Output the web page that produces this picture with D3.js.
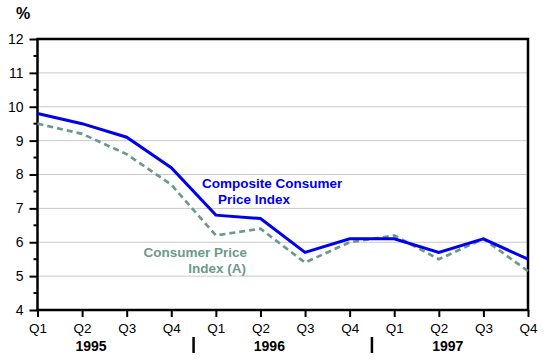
<!DOCTYPE html>
<html><head><meta charset="utf-8">
<script src="https://cdn.jsdelivr.net/npm/d3@7"></script>
<style>body{margin:0;background:#fff}svg{display:block;font-family:"Liberation Sans",Arial,sans-serif}</style>
</head><body><svg id="c" width="550" height="364"></svg>
<script>
const quarters = ["Q1","Q2","Q3","Q4","Q1","Q2","Q3","Q4","Q1","Q2","Q3","Q4"];
const years = ["1995","1996","1997"];
const composite = [9.8,9.5,9.1,8.2,6.8,6.7,5.7,6.1,6.1,5.7,6.1,5.5];
const cpiA = [9.5,9.2,8.6,7.7,6.2,6.4,5.4,6.0,6.2,5.5,6.1,5.15];
const yTicks = [4,5,6,7,8,9,10,11,12];

const svg = d3.select("#c");
const L=37.5, R=528, T=39, B=310;
const x = d3.scalePoint().domain(d3.range(quarters.length)).range([L,R]);
const y = d3.scaleLinear().domain([4,12]).range([B,T]);

// gridlines
svg.append("g").selectAll("line").data(yTicks.filter(v=>v>4&&v<12)).join("line")
  .attr("x1",L).attr("x2",R).attr("y1",d=>y(d)).attr("y2",d=>y(d))
  .attr("stroke","#c8c8c8").attr("stroke-width",1);

// minor ticks
const minors = d3.range(4.5,12,1);
svg.append("g").selectAll("line").data(minors).join("line")
  .attr("x1",L-4).attr("x2",L).attr("y1",d=>y(d)).attr("y2",d=>y(d))
  .attr("stroke","#000").attr("stroke-width",2);

// y axis
const ya = svg.append("g").attr("transform",`translate(${L},0)`)
  .call(d3.axisLeft(y).tickValues(yTicks).tickSize(8).tickPadding(6).tickFormat(d3.format("d")));
ya.select(".domain").remove();
ya.selectAll(".tick line").attr("stroke","#000").attr("stroke-width",2);
ya.selectAll(".tick text").attr("font-size",14).attr("fill","#000").attr("font-family","Liberation Sans, Arial, sans-serif");

// x axis
const xa = svg.append("g").attr("transform",`translate(0,${B})`)
  .call(d3.axisBottom(x).tickSize(7).tickPadding(6).tickFormat(i=>quarters[i]));
xa.select(".domain").remove();
xa.selectAll(".tick line").attr("stroke","#000").attr("stroke-width",2);
xa.selectAll(".tick text").attr("font-size",13.5).attr("fill","#000").attr("font-family","Liberation Sans, Arial, sans-serif");

// frame
svg.append("rect").attr("x",L).attr("y",T).attr("width",R-L).attr("height",B-T)
  .attr("fill","none").attr("stroke","#000").attr("stroke-width",2.5);

// year labels
const step = x.step();
svg.append("g").selectAll("text").data(years).join("text")
  .attr("x",(d,i)=>x(i*4+1)+0.2*step).attr("y",351)
  .attr("text-anchor","middle").attr("font-size",14).attr("font-weight","bold").text(d=>d);
// separators
svg.append("g").selectAll("line").data([1,2]).join("line")
  .attr("x1",i=>(x(i*4-1)+x(i*4))/2).attr("x2",i=>(x(i*4-1)+x(i*4))/2)
  .attr("y1",337).attr("y2",353).attr("stroke","#000").attr("stroke-width",2.5);

// lines
const line = d3.line().x((d,i)=>x(i)).y(d=>y(d));
svg.append("path").datum(cpiA).attr("d",line).attr("fill","none")
  .attr("stroke","#6b9a8b").attr("stroke-width",2.7).attr("stroke-dasharray","6,4");
svg.append("path").datum(composite).attr("d",line).attr("fill","none")
  .attr("stroke","#0000ee").attr("stroke-width",3).attr("stroke-linejoin","miter");

// labels
const fs = 13.5;
svg.append("text").attr("x",202).attr("y",188).attr("font-size",fs).attr("font-weight","bold")
  .attr("fill","#0000ee").text("Composite Consumer");
svg.append("text").attr("x",218).attr("y",203.5).attr("font-size",fs).attr("font-weight","bold")
  .attr("fill","#0000ee").text("Price Index");
svg.append("text").attr("x",247).attr("y",257).attr("font-size",fs).attr("font-weight","bold")
  .attr("text-anchor","end").attr("fill","#6b9a8b").text("Consumer Price");
svg.append("text").attr("x",246).attr("y",272.5).attr("font-size",fs).attr("font-weight","bold")
  .attr("text-anchor","end").attr("fill","#6b9a8b").text("Index (A)");

svg.append("text").attr("x",16).attr("y",19).attr("font-size",16).attr("font-weight","bold").text("%");
</script></body></html>
